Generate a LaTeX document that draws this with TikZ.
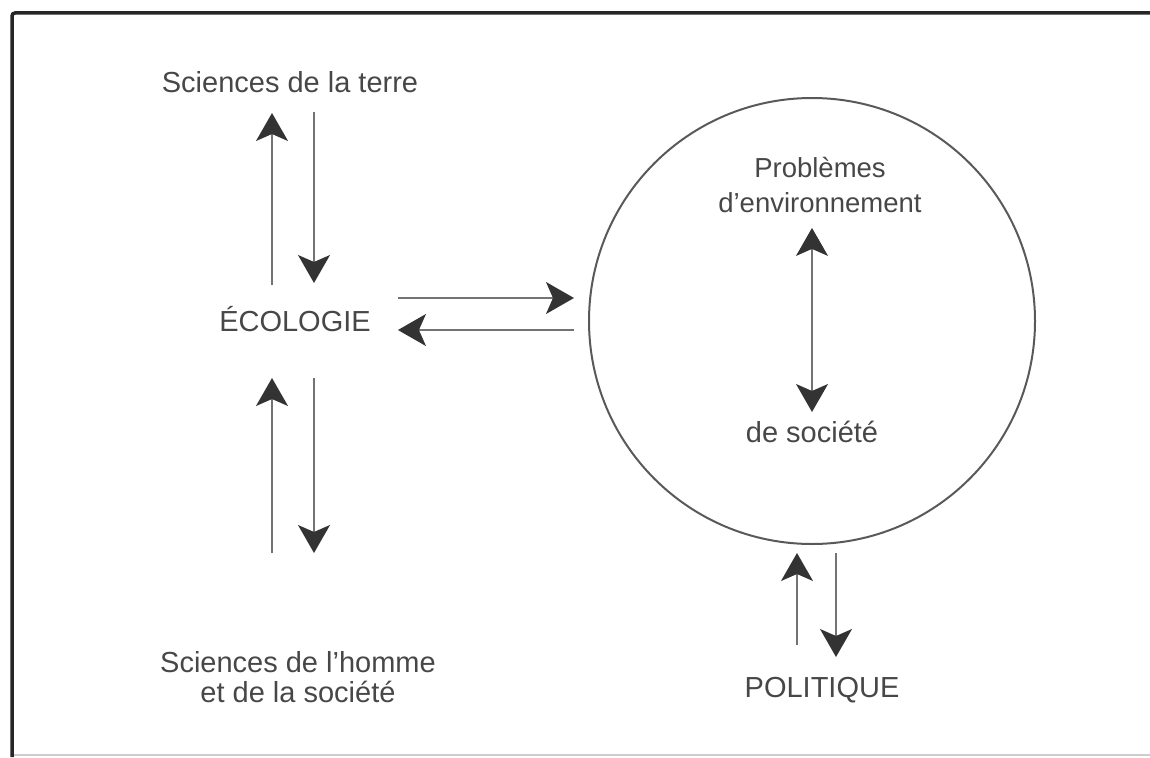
\documentclass[tikz,border=0pt]{standalone}
\usepackage{fontspec}
\setmainfont{Liberation Sans}
\usetikzlibrary{arrows.meta,calc}

\tikzset{
  headtip/.tip={Stealth[length=28pt, width=32pt, inset=7pt, color=black!80]},
  flow/.style={draw=black!55, line width=1.4pt, -headtip},
  twoway/.style={draw=black!55, line width=1.4pt, headtip-headtip},
  label/.style={font=\fontsize{29}{30}\selectfont, text=black!72, inner sep=0pt}
}

\begin{document}
\begin{tikzpicture}[x=1pt, y=-1pt]
  \useasboundingbox (0,0) rectangle (1150,757);

  % Scanned page frame.
  \draw[black!20, line width=1.5pt] (12,755) -- (1150,755);
  \draw[black!85, line width=3.5pt, rounded corners=3pt] (1150,13) -- (12,13) -- (12,757);

  % Texts.
  \node[label, anchor=base] (terre) at (290,93) {Sciences de la terre};
  \node[label, anchor=base] (eco) at (295,331) {ÉCOLOGIE};
  \node[label, align=center, anchor=north] (homme) at (298,651)
    {Sciences de l'homme\\et de la société};

  \node[draw=black!65, line width=2pt, circle, minimum size=446pt, inner sep=0pt] (env) at (812,321) {};
  \node[label, align=center, anchor=north, font=\fontsize{27.5}{35}\selectfont] (prob) at (820,157)
    {Problèmes\\d'environnement};
  \node[label, anchor=base] (soc) at (812,442) {de société};
  \node[label, anchor=base] (pol) at (822,697) {POLITIQUE};

  % Ecology and the earth sciences.
  \draw[flow] ($(eco.base)+(-23,-46)$) -- ($(eco.base |- terre.base)+(-23,20)$);
  \draw[flow] ($(eco.base |- terre.base)+(19,19)$) -- ($(eco.base)+(19,-48)$);

  % Ecology and the human sciences.
  \draw[flow] ($(eco.base |- homme.north)+(-23,-98)$) -- ($(eco.base)+(-23,47)$);
  \draw[flow] ($(eco.base)+(19,47)$) -- ($(eco.base |- homme.north)+(19,-98)$);

  % Ecology and the circle.
  \draw[flow] ($(eco.base -| eco.east)+(27,-33)$) -- ($(eco.base -| env.west)+(-14,-33)$);
  \draw[flow] ($(eco.base -| env.west)+(-14,-1)$) -- ($(eco.base -| eco.east)+(27,-1)$);

  % Inside the circle.
  \draw[twoway] ($(soc.base)+(0,-30)$) -- ($(soc.base |- prob.south)+(0,15)$);

  % Circle and politics.
  \draw[flow] ($(pol.base)+(-25,-52)$) -- ($(pol.base |- env.south)+(-25,8)$);
  \draw[flow] ($(pol.base |- env.south)+(14,8)$) -- ($(pol.base)+(14,-40)$);
\end{tikzpicture}
\end{document}
